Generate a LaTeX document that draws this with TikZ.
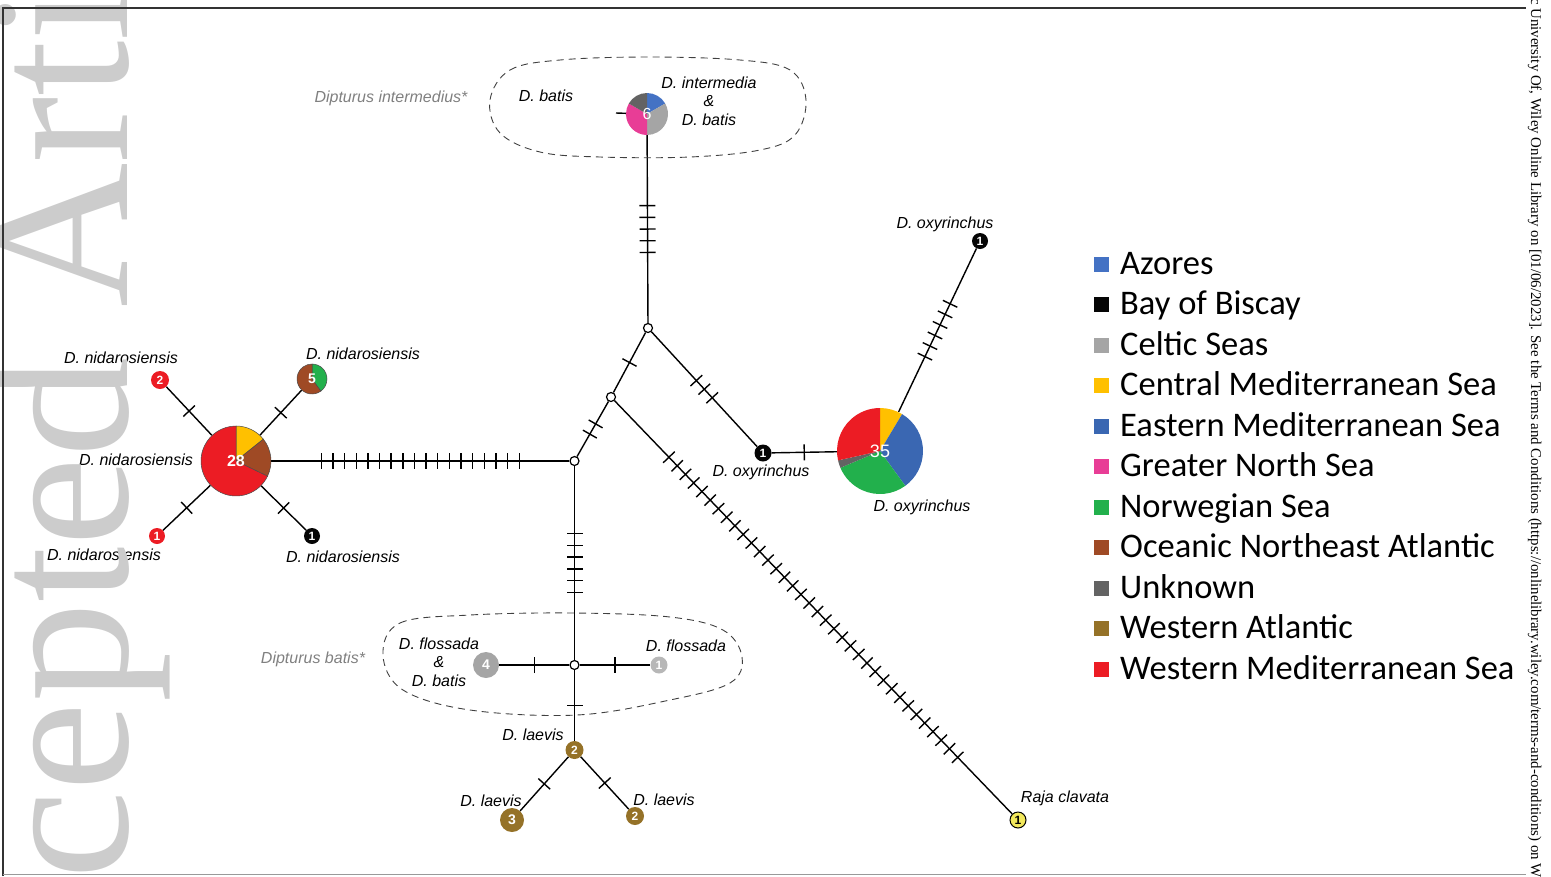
\documentclass[tikz,border=0pt]{standalone}
\usepackage{fontspec}
\setmainfont{Liberation Sans}
\newfontfamily\calib{Carlito}
\newfontfamily\timesf{Liberation Serif}
\usetikzlibrary{calc}
\pgfdeclarelayer{edges}
\pgfdeclarelayer{pies}
\pgfdeclarelayer{front}
\pgfsetlayers{edges,pies,main,front}

\definecolor{cAz}{HTML}{4472C4}
\definecolor{cBay}{HTML}{050505}
\definecolor{cCel}{HTML}{A5A5A5}
\definecolor{cCen}{HTML}{FFC000}
\definecolor{cEas}{HTML}{3A67B2}
\definecolor{cGns}{HTML}{E83D96}
\definecolor{cNor}{HTML}{22B04C}
\definecolor{cOce}{HTML}{9F4A25}
\definecolor{cUnk}{HTML}{636363}
\definecolor{cWat}{HTML}{957228}
\definecolor{cWme}{HTML}{EC1C24}
\definecolor{cRaja}{HTML}{F2E85C}
\definecolor{wmark}{HTML}{CCCCCC}
\definecolor{grplab}{HTML}{808080}

\newcommand\tk[4]{%
  \path (#1) -- (#2) coordinate[pos=0.5] (tkm) coordinate[pos=1] (tke);
  \foreach \i in {1,...,#3}{%
    \coordinate (tkp) at ($(tkm)!{(\i-(#3+1)/2)*#4}!(tke)$);
    \draw[tickst] ($(tkp)!8pt!90:(tke)$) -- ($(tkp)!8pt!-90:(tke)$);
  }}
\newcommand\piechart[4][]{%
  \foreach \pa/\pb/\pc in {#4}{%
    \fill[\pc,#1] (#2.center) -- ++(\pa:#3) arc[start angle=\pa, end angle=\pb, radius=#3] -- cycle;}}

\begin{document}
\begin{tikzpicture}[x=1pt,y=-1pt,
  hap/.style={circle, inner sep=0pt, text=white, font=\bfseries\fontsize{12}{12}\selectfont},
  mv/.style={circle, draw, fill=white, line width=1.2pt, minimum size=9pt, inner sep=0pt},
  edge/.style={line width=1.4pt},
  tickst/.style={line width=1.4pt},
  lab/.style={font=\itshape\fontsize{16}{18.5}\selectfont, align=center, inner sep=0pt},
  grp/.style={lab, text=grplab},
  blob/.style={dash pattern=on 7pt off 5pt, line width=0.9pt, draw=black!75},
  leg/.style={font=\calib\fontsize{34.5}{34.5}\selectfont, anchor=base west, inner sep=0pt},
  legsq/.style={minimum size=15pt, inner sep=0pt},
  pieline/.style={draw=black!70, line width=0.5pt}]
\useasboundingbox (0,0) rectangle (1551,876);

% ---------- haplotype nodes ----------
\node[hap, minimum size=70pt, font=\bfseries\fontsize{16}{16}\selectfont] (p28) at (236,461) {28};
\node[hap, minimum size=30pt, font=\bfseries\fontsize{14}{14}\selectfont] (p5) at (312,379) {5};
\node[hap, minimum size=42pt, font=\fontsize{16}{16}\selectfont] (p6) at (647,114) {6};
\node[hap, minimum size=86pt, font=\fontsize{18}{18}\selectfont] (p35) at (880,451) {35};
\node[hap, fill=cWme, minimum size=18pt] (n2) at (160,380) {2};
\node[hap, fill=cWme, minimum size=16pt] (n1) at (157,536) {1};
\node[hap, fill=cBay, minimum size=16pt] (nb) at (312,536) {1};
\node[hap, fill=cBay, minimum size=17pt] (ox1) at (763,453) {1};
\node[hap, fill=cBay, minimum size=16pt] (ox2) at (980,241) {1};
\node[hap, fill=cRaja, draw=black, line width=1pt, text=black, minimum size=16pt] (raja) at (1018,820) {1};
\node[hap, fill=cCel, minimum size=26pt, font=\bfseries\fontsize{14}{14}\selectfont] (g4) at (486,665) {4};
\node[hap, fill=cCel!80!white, minimum size=17pt] (g1) at (659,665) {1};
\node[hap, fill=cWat, minimum size=18pt] (l2a) at (574.5,750) {2};
\node[hap, fill=cWat, minimum size=24pt, font=\bfseries\fontsize{14}{14}\selectfont] (l3) at (512,820) {3};
\node[hap, fill=cWat, minimum size=18pt] (l2b) at (635,816) {2};
\node[mv] (pA) at (574.5,461) {};
\node[mv] (pB) at (611,397) {};
\node[mv] (pC) at (648,328) {};
\node[mv] (pD) at (574.5,665) {};
\coordinate (stub) at (616,113);

% ---------- pies ----------
\begin{pgfonlayer}{pies}
\piechart[pieline]{p28}{35pt}{90/38.6/cCen, 38.6/-25.7/cOce, -25.7/-270/cWme}
\piechart[pieline]{p5}{15pt}{90/-54/cNor, -54/-270/cOce}
\piechart{p6}{21pt}{90/30/cAz, 30/-90/cCel, -90/-210/cGns, -210/-270/cUnk}
\piechart{p35}{43pt}{90/59.1/cCen, 59.1/-54/cEas, -54/-157/cNor, -157/-167.4/cUnk, -167.4/-270/cWme}
\end{pgfonlayer}

% ---------- connectors ----------
\begin{pgfonlayer}{edges}
\draw[edge] (p28) -- (pA);  \tk{p28}{pA}{18}{11.65pt}
\draw[edge] (pA) -- (pB);   \tk{pA}{pB}{2}{11.7pt}
\draw[edge] (pB) -- (pC);   \tk{pB}{pC}{1}{11.7pt}
\draw[edge] (pC) -- (p6);   \tk{pC}{p6}{5}{11.7pt}
\draw[edge] (p6) -- (stub);
\draw[edge] (pC) -- (ox1);  \tk{pC}{ox1}{3}{11.7pt}
\draw[edge] (ox1) -- (p35); \tk{ox1}{p35}{1}{11.7pt}
\draw[edge] (p35) -- (ox2); \tk{p35}{ox2}{6}{11.7pt}
\draw[edge] (pB) -- (raja); \tk{pB}{raja}{36}{11.9pt}
\draw[edge] (pA) -- (pD);   \tk{pA}{pD}{6}{11.7pt}
\draw[edge] (pD) -- (g4);   \tk{pD}{g4}{1}{11.7pt}
\draw[edge] (pD) -- (g1);   \tk{pD}{g1}{1}{11.7pt}
\draw[edge] (pD) -- (l2a);  \tk{pD}{l2a}{1}{11.7pt}
\draw[edge] (l2a) -- (l3);  \tk{l2a}{l3}{1}{11.7pt}
\draw[edge] (l2a) -- (l2b); \tk{l2a}{l2b}{1}{11.7pt}
\draw[edge] (p28) -- (n2);  \tk{p28}{n2}{1}{11.7pt}
\draw[edge] (p28) -- (p5);  \tk{p28}{p5}{1}{11.7pt}
\draw[edge] (p28) -- (n1);  \tk{p28}{n1}{1}{11.7pt}
\draw[edge] (p28) -- (nb);  \tk{p28}{nb}{1}{11.7pt}
% dashed groups
\draw[blob] plot[smooth cycle, tension=0.6] coordinates {(490,100) (510,70) (560,60) (648,57) (740,60) (790,70) (806,100) (795,135) (760,150) (690,157) (600,157) (540,152) (500,133)};
\draw[blob] plot[smooth cycle, tension=0.6] coordinates {(383,655) (400,623) (470,615) (573,613) (670,617) (723,630) (742,657) (730,683) (670,700) (577,715) (470,710) (403,690)};
\end{pgfonlayer}

% ---------- labels ----------
\node[grp] (gl1) at (391,98) {Dipturus intermedius*};
\node[lab] (t1) at (546,96) {D. batis};
\node[lab] (t2) at (709,101) {D. intermedia\\\&\\D. batis};
\node[lab] (t3) at (945,224) {D. oxyrinchus};
\node[lab] (t4) at (761,472) {D. oxyrinchus};
\node[lab] (t5) at (922,507) {D. oxyrinchus};
\node[lab] (t6) at (1065,798) {Raja clavata};
\node[lab] (t7) at (121,358) {D. nidarosiensis};
\node[lab] (t8) at (363,354) {D. nidarosiensis};
\node[lab] (t9) at (136,460) {D. nidarosiensis};
\node[lab] (t10) at (104,555) {D. nidarosiensis};
\node[lab] (t11) at (343,557) {D. nidarosiensis};
\node[grp] (gl2) at (313,659) {Dipturus batis*};
\node[lab] (t12) at (439,662) {D. flossada\\\&\\D. batis};
\node[lab] (t13) at (686,646) {D. flossada};
\node[lab] (t14) at (533,735) {D. laevis};
\node[lab] (t15) at (491,801) {D. laevis};
\node[lab] (t16) at (664,800) {D. laevis};

% ---------- legend ----------
\foreach \lc/\lt [count=\k from 0] in {cAz/Azores, cBay/Bay of Biscay, cCel/Celtic Seas, cCen/Central Mediterranean Sea, cEas/Eastern Mediterranean Sea, cGns/Greater North Sea, cNor/Norwegian Sea, cOce/Oceanic Northeast Atlantic, cUnk/Unknown, cWat/Western Atlantic, cWme/Western Mediterranean Sea}{
  \node[legsq, fill=\lc] (sq\k) at (1101,{264+40.5*\k}) {};
  \node[leg] (lt\k) at (1120,{274+40.5*\k}) {\lt};
}

% ---------- watermark, side text, frame ----------
\begin{pgfonlayer}{front}
\begin{scope}
\clip (0,0) rectangle (1551,876);
\node[rotate=90, anchor=base west, inner sep=0pt, text=wmark, font=\timesf\fontsize{200}{200}\selectfont] (wm) at (127,880) {cepted Arti};
\node[rotate=-90, anchor=base west, inner sep=0pt, font=\timesf\fontsize{14.9}{14.9}\selectfont] (side) at (1531,-2) {c University Of, Wiley Online Library on [01/06/2023]. See the Terms and Conditions (https://onlinelibrary.wiley.com/terms-and-conditions) on Wiley};
\end{scope}
\draw[line width=1.5pt, black!80] (3,876) -- (3,8) -- (1526,8);
\draw[line width=0.8pt, black!40] (3,874.5) -- (1526,874.5);
\end{pgfonlayer}
\end{tikzpicture}
\end{document}
